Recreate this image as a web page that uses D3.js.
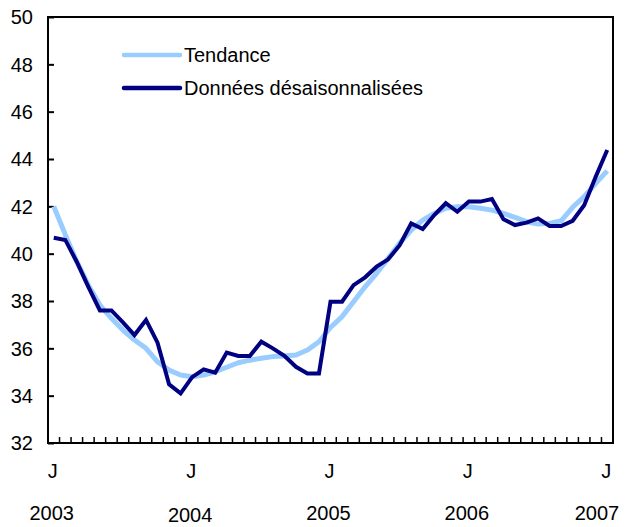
<!DOCTYPE html>
<html>
<head>
<meta charset="utf-8">
<title>Tendance</title>
<script src="https://d3js.org/d3.v7.min.js"></script>
<style>
  body { margin: 0; background: #fff; }
  text { font-family: "Liberation Sans", Arial, sans-serif; fill: #000; }
</style>
</head>
<body>
<script>
// months Jan 2003 .. Jan 2007
var months = d3.range(49);
var trend = [42.0, 40.8, 39.66, 38.67, 37.83, 37.27, 36.77, 36.35, 36.0, 35.43, 35.08, 34.87, 34.8,
  34.87, 35.01, 35.2, 35.39, 35.5, 35.58, 35.65, 35.68, 35.72, 35.93, 36.28, 36.88,
  37.34, 37.97, 38.6, 39.17, 39.8, 40.44, 41.0, 41.42, 41.7, 41.92, 41.98, 41.98,
  41.92, 41.84, 41.7, 41.53, 41.35, 41.25, 41.28, 41.39, 41.96, 42.41, 42.97, 43.5];
var adjusted = [40.67, 40.58, 39.65, 38.6, 37.6, 37.6, 37.1, 36.56, 37.2, 36.24, 34.48, 34.1, 34.78,
  35.11, 34.97, 35.82, 35.68, 35.68, 36.28, 36.0, 35.68, 35.22, 34.94, 34.94, 37.97,
  37.97, 38.67, 39.0, 39.45, 39.76, 40.36, 41.28, 41.04, 41.63, 42.13, 41.77, 42.2,
  42.2, 42.31, 41.45, 41.21, 41.31, 41.49, 41.17, 41.17, 41.39, 42.05, 43.25, 44.38];
var yTicks = [32, 34, 36, 38, 40, 42, 44, 46, 48, 50];
var yearLabels = ["2003", "2004", "2005", "2006", "2007"];
var seriesNames = ["Tendance", "Données désaisonnalisées"];
var colors = ["#99ccff", "#000080"];

var W = 625, H = 527;
var pL = 48, pR = 613, pT = 17, pB = 443;
var fs = "20px";

var svg = d3.select("body").append("svg")
  .attr("width", W).attr("height", H);

var x = d3.scaleBand().domain(months).range([pL, pR]);
var xc = function(i) { return x(i) + x.bandwidth() / 2; };
var y = d3.scaleLinear().domain([32, 50]).range([pB, pT]);

// frame
svg.append("rect")
  .attr("x", pL).attr("y", pT)
  .attr("width", pR - pL).attr("height", pB - pT)
  .attr("fill", "none").attr("stroke", "#000").attr("stroke-width", 2);

// y ticks
var yAxis = svg.append("g").attr("transform", "translate(" + pL + ",0)")
  .call(d3.axisRight(y).tickValues(yTicks).tickSize(6).tickFormat(""));
yAxis.select(".domain").remove();
yAxis.selectAll("line").attr("stroke-width", 2);
svg.selectAll(".ylab").data(yTicks).enter().append("text")
  .attr("x", 33).attr("y", function(d) { return y(d); })
  .attr("dy", "0.36em").attr("text-anchor", "end")
  .style("font-size", fs).text(function(d) { return d; });

// monthly ticks at category boundaries
var bounds = d3.range(50);
svg.selectAll(".mt").data(bounds).enter().append("line")
  .attr("x1", function(k) { return pL + k * x.step(); })
  .attr("x2", function(k) { return pL + k * x.step(); })
  .attr("y1", pB).attr("y2", pB - 6)
  .attr("stroke", "#000").attr("stroke-width", 1.5);

// J labels and years
var janIdx = [0, 12, 24, 36, 48];
svg.selectAll(".jl").data(janIdx).enter().append("text")
  .attr("x", function(i) { return xc(i) - 1; }).attr("y", 478)
  .attr("text-anchor", "middle").style("font-size", fs).text("J");
svg.selectAll(".yl").data(janIdx).enter().append("text")
  .attr("x", function(i, k) { return Math.min(xc(i) - 2, 597); })
  .attr("y", function(i, k) { return k === 1 ? 522 : 520; })
  .attr("text-anchor", "middle").style("font-size", fs)
  .text(function(i, k) { return yearLabels[k]; });

// lines
var line = d3.line().x(function(d, i) { return xc(i); }).y(function(d) { return y(d); });
svg.append("path").datum(trend).attr("d", line)
  .attr("fill", "none").attr("stroke", colors[0]).attr("stroke-width", 5)
  .attr("stroke-linejoin", "round");
svg.append("path").datum(adjusted).attr("d", line)
  .attr("fill", "none").attr("stroke", colors[1]).attr("stroke-width", 4)
  .attr("stroke-linejoin", "miter");

// legend
var lg = svg.append("g");
seriesNames.forEach(function(name, k) {
  var ly = 55 + k * 33;
  lg.append("line").attr("x1", 124).attr("x2", 180).attr("y1", ly).attr("y2", ly)
    .attr("stroke", colors[k]).attr("stroke-width", 4.5).attr("stroke-linecap", "round");
  lg.append("text").attr("x", 184).attr("y", ly).attr("dy", "0.36em")
    .style("font-size", fs).text(name);
});
</script>
</body>
</html>
